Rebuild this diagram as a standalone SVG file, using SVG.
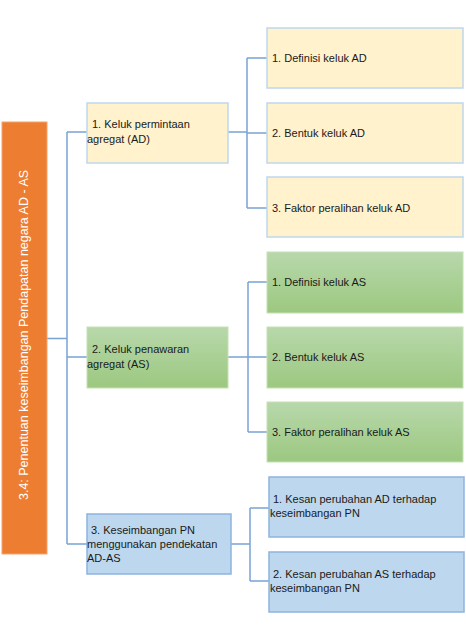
<svg xmlns="http://www.w3.org/2000/svg" width="466" height="640" viewBox="0 0 466 640">
<defs>
<linearGradient id="gGreen" x1="0" y1="0" x2="0" y2="1">
<stop offset="0" stop-color="#B8D8AB"/>
<stop offset="1" stop-color="#9CC880"/>
</linearGradient>
<style>
.t{font-family:"Liberation Sans",Arial,sans-serif;font-size:11px;fill:#1a1a1a}
.conn{fill:none;stroke:#7AA3D4;stroke-width:1.5}
.yel{fill:#FFF2CC;stroke:#BDD7EE;stroke-width:1.5}
.grn{fill:url(#gGreen);stroke:#C5E0B4;stroke-width:1}
.blu{fill:#BDD7EE;stroke:#8EB4DE;stroke-width:1.5}
</style>
</defs>
<rect width="466" height="640" fill="#ffffff"/>
<g id="connectors">
<path class="conn" d="M47,338.5 H67 M67,132 V544 M67,132 H87 M67,357 H87 M67,544 H87"/>
<path class="conn" d="M228,132 H247 M247,58 V208 M247,58 H267 M247,133 H267 M247,208 H267"/>
<path class="conn" d="M228,357 H248 M248,282 V432 M248,282 H267 M248,357 H267 M248,432 H267"/>
<path class="conn" d="M231,544 H250 M250,508 V581 M250,508 H269 M250,581 H269"/>
</g>
<g id="root">
<rect x="2" y="122" width="45" height="432" fill="#ED7D31" stroke="#F4A46E" stroke-width="1"/>
<text transform="translate(28,335) rotate(-90)" text-anchor="middle" style="font-family:'Liberation Sans',Arial,sans-serif;font-size:12.5px;fill:#ffffff">3.4: Penentuan keseimbangan Pendapatan negara AD - AS</text>
</g>
<g id="ad">
<rect class="yel" x="87" y="103" width="141" height="60"/>
<text class="t" x="92" y="128">1. Keluk permintaan</text>
<text class="t" x="87" y="143">agregat (AD)</text>
</g>
<g id="ad1">
<rect class="yel" x="267" y="28" width="196" height="60"/>
<text class="t" x="272" y="62">1. Definisi keluk AD</text>
</g>
<g id="ad2">
<rect class="yel" x="267" y="103" width="196" height="60"/>
<text class="t" x="272" y="137">2. Bentuk keluk AD</text>
</g>
<g id="ad3">
<rect class="yel" x="267" y="177" width="196" height="60"/>
<text class="t" x="272" y="212">3. Faktor peralihan keluk AD</text>
</g>
<g id="as">
<rect class="grn" x="87" y="327" width="141" height="61"/>
<text class="t" x="92" y="353">2. Keluk penawaran</text>
<text class="t" x="87" y="368">agregat (AS)</text>
</g>
<g id="as1">
<rect class="grn" x="267" y="252" width="196" height="61"/>
<text class="t" x="272" y="286">1. Definisi keluk AS</text>
</g>
<g id="as2">
<rect class="grn" x="267" y="327" width="196" height="61"/>
<text class="t" x="272" y="361">2. Bentuk keluk AS</text>
</g>
<g id="as3">
<rect class="grn" x="267" y="402" width="196" height="60"/>
<text class="t" x="272" y="436">3. Faktor peralihan keluk AS</text>
</g>
<g id="pn">
<rect class="blu" x="87" y="514" width="144" height="60"/>
<text class="t" x="91" y="534">3. Keseimbangan  PN</text>
<text class="t" x="87" y="548">menggunakan pendekatan</text>
<text class="t" x="87" y="562">AD-AS</text>
</g>
<g id="pn1">
<rect class="blu" x="269" y="477" width="195" height="60"/>
<text class="t" x="273" y="503">1. Kesan perubahan AD terhadap</text>
<text class="t" x="270" y="517">keseimbangan  PN</text>
</g>
<g id="pn2">
<rect class="blu" x="269" y="552" width="195" height="60"/>
<text class="t" x="273" y="578">2. Kesan perubahan AS terhadap</text>
<text class="t" x="270" y="592">keseimbangan  PN</text>
</g>
</svg>
